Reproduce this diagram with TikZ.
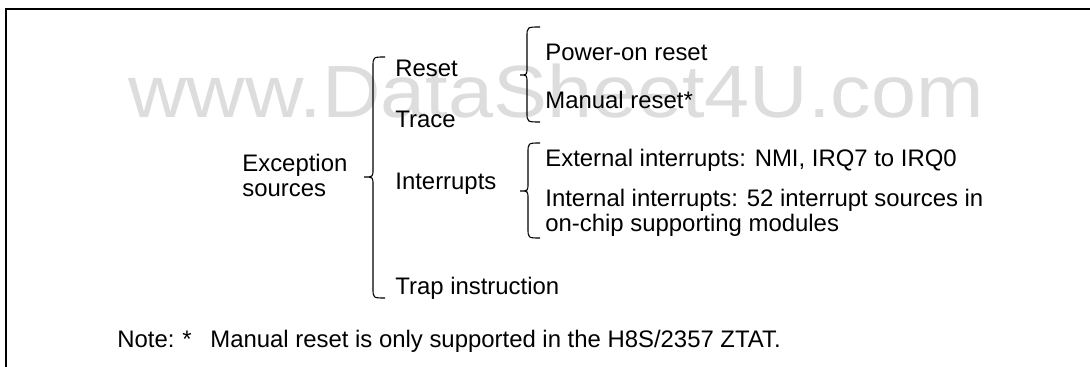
\documentclass[tikz,border=0pt]{standalone}
\usepackage{fontspec}
\setmainfont{Liberation Sans}
\definecolor{wmgray}{RGB}{221,221,221}
\newcommand\curlybr[6]{% #1 xtip, #2 xline, #3 xend, #4 ytop, #5 ymid, #6 ybot
  \draw[brace] (#3,#4) .. controls (#2,#4) .. (#2,#4+10) -- (#2,#5-8)
    .. controls (#2,#5) .. (#1,#5) .. controls (#2,#5) .. (#2,#5+8)
    -- (#2,#6-10) .. controls (#2,#6) .. (#3,#6);}
\begin{document}
\begin{tikzpicture}[x=0.5pt,y=-0.5pt,
  lbl/.style={anchor=base west, inner sep=0pt, font=\fontsize{11.95}{12.5}\selectfont},
  two/.style={lbl, align=left},
  brace/.style={draw=black, line width=0.55pt},
  frame/.style={draw=black, line width=0.6pt},
  wm/.style={anchor=base west, inner sep=0pt, text=wmgray, font=\fontsize{37}{40}\selectfont, xscale=1.095}]
\useasboundingbox (0,0) rectangle (1090,367);
\node[wm] (wm) at (128,118) {www.DataSheet4U.com};
\draw[frame] (6,367) -- (6,9) -- (1090,9);
% left column (base anchor = last line)
\node[two] (exc) at (242,197) {Exception\\sources};
% middle column
\node[lbl] (reset) at (395,77) {Reset};
\node[lbl] (trace) at (395,128) {Trace};
\node[lbl] (intr) at (395,190) {Interrupts};
\node[lbl] (trap) at (395,295) {Trap instruction};
% right column
\node[lbl] (por) at (545,61) {Power-on reset};
\node[lbl] (mrst) at (545,109) {Manual reset*};
\node[lbl] (ext) at (545,167) {External interrupts: NMI, IRQ7 to IRQ0};
\node[two] (int) at (545,232) {Internal interrupts: 52 interrupt sources in\\on-chip supporting modules};
% braces
\curlybr{364}{373}{385}{57}{177}{298}
\curlybr{520}{527}{540}{27}{75}{122}
\curlybr{520}{528}{540}{143}{191}{238}
% note
\node[lbl] (note) at (117,348) {Note:};
\node[lbl] (star) at (182,348) {*};
\node[lbl] (notetxt) at (210,348) {Manual reset is only supported in the H8S/2357 ZTAT.};
\end{tikzpicture}
\end{document}
